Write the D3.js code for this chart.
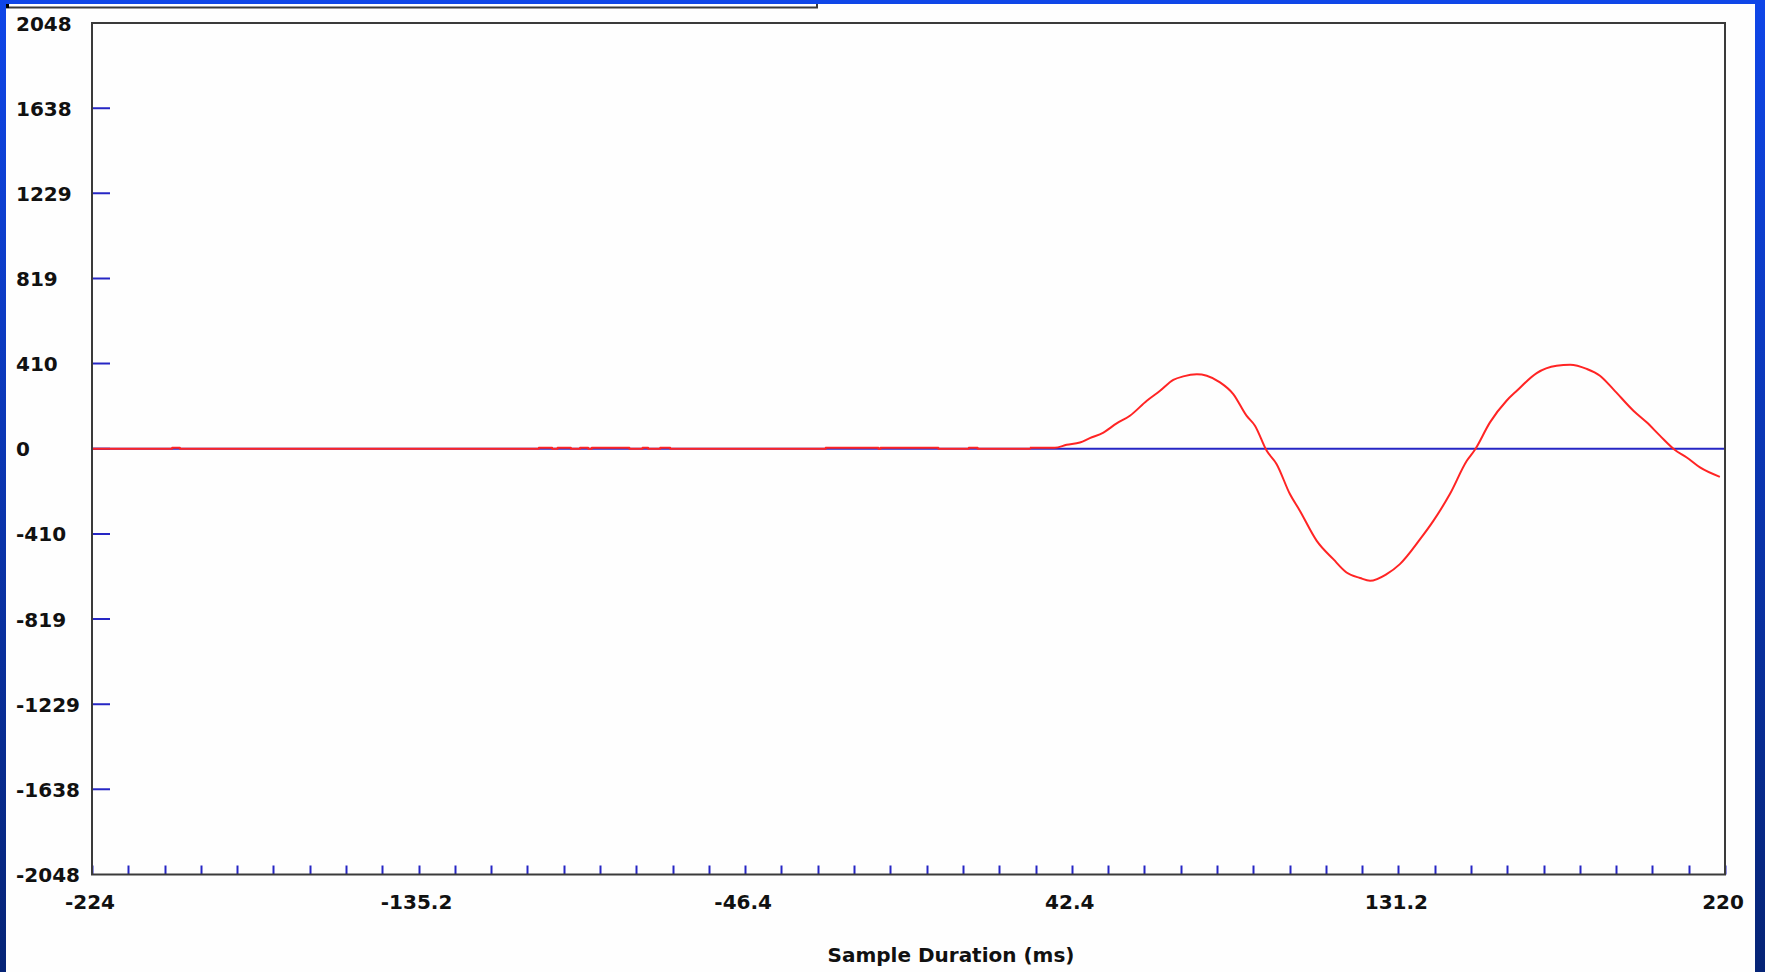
<!DOCTYPE html>
<html>
<head>
<meta charset="utf-8">
<script src="https://cdn.jsdelivr.net/npm/d3@7"></script>
<style>
    html, body { margin: 0; padding: 0; background: #0f45e6; }
    svg { display: block; }
    .lbl { font-family: "DejaVu Sans", Verdana, sans-serif; font-weight: bold; font-size: 20px; fill: #111; }
</style>
</head>
<body>
<svg class="chart" width="1765" height="972"></svg>
<script>

// y axis ticks (counts)
const yTickValues = [2048, 1638, 1229, 819, 410, 0, -410, -819, -1229, -1638, -2048];

// x axis labels (ms), with 9 minor steps between labelled ticks
const xTickLabels = [-224, -135.2, -46.4, 42.4, 131.2, 220];
const xStepsPerLabel = 9;

// little bursts where the trace sits one count-step above zero
const flatBursts = [
    [-202.2, -200.1],
    [-102.5, -98.9],
    [-97.4, -93.8],
    [-91.3, -89.1],
    [-88.1, -77.9],
    [-74.3, -72.8],
    [-69.5, -66.8],
    [-24.5, -10.2],
    [-9.6, 6.1],
    [14.4, 16.8]
];
const burstLevel = 5;

// the waveform itself
const waveTimes = [31.0, 37.8, 41.0, 44.6, 47.3, 51.0, 54.6, 58.2, 62.8, 66.4, 70.0, 72.7, 76.4, 79.1,
    82.7, 86.3, 89.9, 92.2, 95.4, 98.1, 101.7, 104.4, 109.0, 113.5, 117.1, 120.8, 123.5, 128.0,
    131.6, 137.1, 140.7, 145.2, 149.8, 152.0, 156.1, 160.6, 163.4, 168.8, 174.2, 177.9, 182.4,
    186.0, 189.6, 195.1, 198.7, 202.3, 206.4, 209.6, 213.2, 218.6];
const waveValues = [5, 5, 19, 30, 51, 78, 122, 159, 231, 279, 331, 348, 358, 351,
    319, 263, 159, 111, -10, -74, -218, -298, -443, -531, -595, -622, -635, -603,
    -555, -435, -347, -218, -58, -5, 127, 231, 279, 364, 399, 404, 384,
    351, 287, 183, 127, 63, -6, -42, -90, -135];

const main = {};

main.box = { left: 92, right: 1725, top: 23, bottom: 874.5 };

main.svg = d3.select('svg.chart');

main.x = d3.scaleLinear().domain([-224, 220]).range([main.box.left, main.box.right]);
main.y = d3.scaleLinear().domain([-2048, 2048]).range([main.box.bottom, main.box.top]);

drawBackground();
drawTicks();
drawTrace();
drawFrame();
drawLabels();

function drawBackground() {

    const defs = main.svg.append('defs');

    const grad = defs.append('linearGradient')
        .attr('id', 'bg')
        .attr('x1', 0).attr('y1', 0).attr('x2', 0).attr('y2', 1);

    grad.append('stop').attr('offset', '0%').attr('stop-color', '#0f46e8');
    grad.append('stop').attr('offset', '100%').attr('stop-color', '#062476');

    defs.append('clipPath').attr('id', 'plot-clip')
        .append('rect')
        .attr('x', main.box.left).attr('y', main.box.top)
        .attr('width', main.box.right - main.box.left)
        .attr('height', main.box.bottom - main.box.top);

    main.svg.append('rect')
        .attr('width', 1765).attr('height', 972)
        .attr('fill', 'url(#bg)');

    main.svg.append('rect')
        .attr('x', 6).attr('y', 4)
        .attr('width', 1749).attr('height', 968)
        .attr('fill', '#fefefe');

    // bit of a box cut off at the top
    main.svg.append('path')
        .attr('d', 'M6,7.5 H817 V4')
        .attr('fill', 'none')
        .attr('stroke', '#3a3a3a')
        .attr('stroke-width', 2);

    main.svg.append('rect')
        .attr('x', 6).attr('y', 4).attr('width', 3).attr('height', 4)
        .attr('fill', '#000');

}

function drawTicks() {

    const g = main.svg.append('g').attr('stroke', '#2626c4').attr('stroke-width', 2);

    g.selectAll('line.ytick')
        .data(yTickValues.slice(1, -1))
        .join('line')
        .classed('ytick', true)
        .attr('x1', main.box.left).attr('x2', main.box.left + 18)
        .attr('y1', d => main.y(d))
        .attr('y2', d => main.y(d));

    const xFirst = xTickLabels[0];
    const xLast = xTickLabels[xTickLabels.length - 1];
    const nSteps = (xTickLabels.length - 1) * xStepsPerLabel;
    const minor = d3.range(nSteps + 1).map(i => xFirst + (xLast - xFirst) * i / nSteps);

    g.selectAll('line.xtick')
        .data(minor)
        .join('line')
        .classed('xtick', true)
        .attr('x1', d => Math.round(main.x(d)) + 0.5)
        .attr('x2', d => Math.round(main.x(d)) + 0.5)
        .attr('y1', main.box.bottom)
        .attr('y2', main.box.bottom - 9);

}

function drawTrace() {

    // zero line
    main.svg.append('line')
        .attr('x1', main.box.left).attr('x2', main.box.right)
        .attr('y1', main.y(0)).attr('y2', main.y(0))
        .attr('stroke', '#2626c4')
        .attr('stroke-width', 2);

    // flat part with its small steps
    const flat = [[xTickLabels[0], 0]];
    flatBursts.forEach(b => {
        flat.push([b[0], 0], [b[0], burstLevel], [b[1], burstLevel], [b[1], 0]);
    });
    flat.push([waveTimes[0], 0], [waveTimes[0], waveValues[0]]);

    const wave = waveTimes.map((t, i) => [t, waveValues[i]]);

    const line = d3.line()
        .x(d => main.x(d[0]))
        .y(d => main.y(d[1]));

    const smooth = d3.line()
        .x(d => main.x(d[0]))
        .y(d => main.y(d[1]))
        .curve(d3.curveMonotoneX);

    const g = main.svg.append('g')
        .attr('clip-path', 'url(#plot-clip)')
        .attr('fill', 'none')
        .attr('stroke', '#ff2424')
        .attr('stroke-width', 2)
        .attr('stroke-linejoin', 'round');

    g.append('path').datum(flat).attr('d', line);
    g.append('path').datum(wave).attr('d', smooth);

}

function drawFrame() {

    main.svg.append('rect')
        .attr('x', main.box.left).attr('y', main.box.top)
        .attr('width', main.box.right - main.box.left)
        .attr('height', main.box.bottom - main.box.top)
        .attr('fill', 'none')
        .attr('stroke', '#3a3a3a')
        .attr('stroke-width', 2);

}

function drawLabels() {

    main.svg.selectAll('text.ylbl')
        .data(yTickValues)
        .join('text')
        .attr('class', 'lbl ylbl')
        .attr('x', 16)
        .attr('y', d => main.y(d) + 7.5)
        .text(d => d);

    main.svg.selectAll('text.xlbl')
        .data(xTickLabels)
        .join('text')
        .attr('class', 'lbl xlbl')
        .attr('x', d => main.x(d) - 2)
        .attr('y', 909)
        .attr('text-anchor', 'middle')
        .text(d => d);

    main.svg.append('text')
        .attr('class', 'lbl')
        .attr('x', 951)
        .attr('y', 962)
        .attr('text-anchor', 'middle')
        .text('Sample Duration (ms)');

}

</script>
</body>
</html>
